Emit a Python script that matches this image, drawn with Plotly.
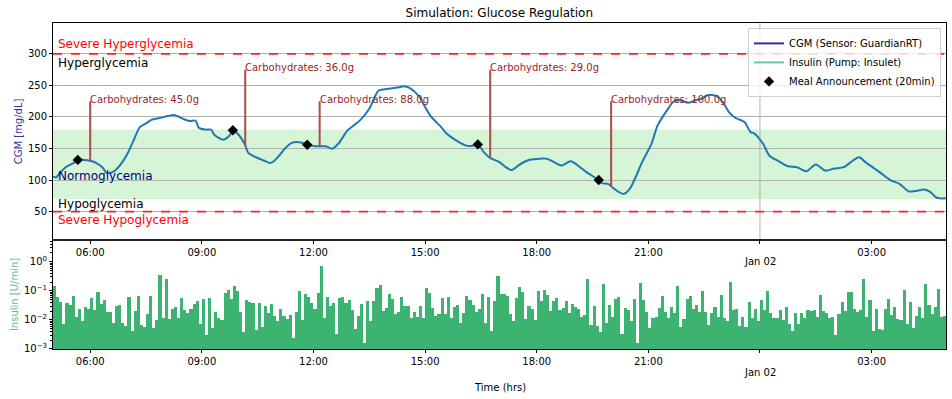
import numpy as np
import pandas as pd
import plotly.graph_objects as go

# ---------------- data ----------------
cgm_clock = ["05:00","05:05","05:10","05:20","05:35","05:40","05:50","06:00","06:10","06:20",
             "06:25","06:30","06:40","06:50","07:00","07:10","07:20","07:30","07:40","07:55",
             "08:05","08:15","08:20","08:30","08:40","08:50","08:55","09:05","09:15","09:20",
             "09:35","09:45","09:50","10:00","10:10","10:15","10:30","10:40","10:50","10:55",
             "11:05","11:15","11:25","11:40","11:50","12:00","12:10","12:20","12:30","12:40",
             "12:55","13:05","13:15","13:30","13:40","13:45","13:55","14:10","14:20","14:25",
             "14:35","14:50","15:00","15:10","15:25","15:35","15:50","16:05","16:15","16:25",
             "16:35","16:45","17:00","17:10","17:20","17:30","17:45","17:55","18:15","18:25",
             "18:40","18:55","19:10","19:20","19:40","19:45","19:55","20:05","20:20","20:30",
             "20:40","20:50","21:05","21:15","21:30","21:40","21:50","22:05","22:15","22:25",
             "22:35","22:50","23:00","23:10","23:20","23:35","23:45","23:50","00:05","00:15",
             "00:30","00:45","01:00","01:15","01:30","01:45","02:00","02:15","02:30","02:40",
             "02:50","03:05","03:15","03:30","03:45","04:00","04:10","04:25","04:35","04:45",
             "05:00"]
cgm_values = [106,104,110,120,128,132,132,130.5,127,120,
              112.5,111,115,126,141.6,163,184,190,196,199,
              201.5,203,201.5,197,193.5,194,183,180,179.8,172,
              164,171,179,171,155,143,135,131,127,129,
              139,151,159,159.6,156,154,153.5,153.5,149.6,157.5,
              178.7,186.7,194.6,213,234,242,244,246,247.6,248.6,
              246,233,216,200,185,173.4,163,155,154,156.5,
              144,135,128.4,120.4,116,123,131,133,134,130,
              123,130,120.4,112.5,100,95,94,86,78,86,
              105.6,128.4,157.5,186.7,210.5,223.7,226.4,222.7,226.4,228.5,
              234.3,233,223.7,207.8,198.8,192,176,174.5,157.5,139,
              130,122,120.4,114,124.7,115,118.3,120.4,131,136,
              128.4,118,111,100,94,82,82.5,85,81,72,
              71]

meal_clock = ["06:00", "10:10", "12:10", "16:45", "20:00"]
meal_carbs = [45.0, 36.0, 88.0, 29.0, 100.0]
announce_minutes = 20

insulin_values = [
    # 05:00 - 10:55
    0.146,0.061,0.042,0.0074,0.039,0.033,0.066,0.013,0.024,0.0094,
    0.028,0.024,0.057,0.022,0.091,0.036,0.048,0.019,0.019,0.0080,
    0.030,0.032,0.0080,0.0063,0.061,0.0043,0.020,0.068,0.0067,0.0057,
    0.016,0.066,0.0054,0.0099,0.358,0.012,0.254,0.011,0.024,0.028,
    0.012,0.057,0.022,0.017,0.024,0.035,0.045,0.0074,0.052,0.0031,
    0.057,0.0054,0.019,0.012,0.010,0.084,0.107,0.054,0.146,0.098,
    0.019,0.0039,0.048,0.041,0.039,0.0046,0.038,0.0058,0.029,0.017,
    0.035,0.014,
    # 11:00 - 16:55
    0.0092,0.024,0.014,0.011,0.015,0.0024,0.019,0.098,0.0099,0.078,
    0.061,0.038,0.024,0.084,0.711,0.012,0.061,0.030,0.038,0.0033,
    0.057,0.061,0.038,0.048,0.022,0.0049,0.014,0.035,0.0016,0.045,
    0.0092,0.045,0.125,0.158,0.020,0.026,0.078,0.052,0.016,0.019,
    0.061,0.030,0.030,0.012,0.019,0.013,0.030,0.012,0.125,0.084,
    0.026,0.014,0.016,0.057,0.016,0.061,0.012,0.028,0.032,0.0078,
    0.017,0.066,0.048,0.032,0.019,0.024,0.078,0.0078,0.061,0.0042,
    0.045,0.323,
    # 17:00 - 22:55
    0.078,0.078,0.066,0.016,0.0092,0.057,0.135,0.091,0.011,0.030,
    0.024,0.0099,0.098,0.045,0.107,0.074,0.020,0.045,0.057,0.022,
    0.026,0.045,0.017,0.035,0.028,0.024,0.013,0.015,0.254,0.0067,
    0.030,0.0062,0.0038,0.171,0.0078,0.032,0.013,0.052,0.061,0.0033,
    0.026,0.022,0.0092,0.052,0.0016,0.185,0.048,0.019,0.0053,0.012,
    0.013,0.026,0.066,0.019,0.012,0.028,0.017,0.146,0.0057,0.011,
    0.052,0.066,0.024,0.032,0.019,0.098,0.019,0.0067,0.017,0.028,
    0.013,0.072,
    # 23:00 - 04:55
    0.012,0.0092,0.200,0.022,0.024,0.0062,0.013,0.0057,0.041,0.012,
    0.024,0.0092,0.048,0.022,0.098,0.017,0.012,0.012,0.022,0.0099,
    0.028,0.0072,0.0042,0.017,0.0072,0.017,0.012,0.022,0.020,0.022,
    0.013,0.072,0.020,0.017,0.012,0.013,0.0030,0.016,0.041,0.020,
    0.091,0.091,0.024,0.019,0.022,0.254,0.013,0.048,0.0042,0.024,
    0.0049,0.0045,0.024,0.052,0.015,0.028,0.011,0.0099,0.107,0.0072,
    0.041,0.0053,0.014,0.028,0.012,0.171,0.032,0.016,0.028,0.115,
    0.013,0.014,
]

tick_clock = ["06:00", "09:00", "12:00", "15:00", "18:00", "21:00", "00:00", "03:00"]
tick_text = ["06:00", "09:00", "12:00", "15:00", "18:00", "21:00", " ", "03:00"]
date_label = "Jan 02"

zone_labels = ["Severe Hyperglycemia", "Hyperglycemia", "Normoglycemia", "Hypoglycemia", "Severe Hypoglycemia"]

# ---------------- helpers ----------------
day0 = pd.Timestamp("2023-01-01")
start = day0 + pd.Timedelta(hours=5)

def to_ts(clock_list):
    out = []
    day = 0
    prev = -1
    for c in clock_list:
        h, m = map(int, c.split(":"))
        mins = h * 60 + m
        if mins < prev:
            day += 1
        prev = mins
        out.append(day0 + pd.Timedelta(days=day, minutes=mins))
    return out

def clock_ts(c):
    h, m = map(int, c.split(":"))
    ts = day0 + pd.Timedelta(minutes=h * 60 + m)
    if ts < start:
        ts += pd.Timedelta(days=1)
    return ts

cgm_t = to_ts(cgm_clock)
cgm_num = np.array([(t - start).total_seconds() for t in cgm_t])
meal_t = [clock_ts(c) for c in meal_clock]
ann_t = [t - pd.Timedelta(minutes=announce_minutes) for t in meal_t]
meal_y = np.interp([(t - start).total_seconds() for t in meal_t], cgm_num, cgm_values)
ann_y = np.interp([(t - start).total_seconds() for t in ann_t], cgm_num, cgm_values)
ins_t = pd.date_range(start, periods=len(insulin_values), freq="5min")
tick_vals = [clock_ts(c) for c in tick_clock]
midnight = tick_vals[6]
x_range = [start, start + pd.Timedelta(days=1)]

FONT = "DejaVu Sans"
split = 0.3344

fig = go.Figure()

# CGM curve
fig.add_trace(go.Scatter(x=cgm_t, y=cgm_values, mode="lines", line=dict(color="#1f77b4", width=2, shape="spline", smoothing=0.8),
                         showlegend=False, xaxis="x", yaxis="y", hoverinfo="skip"))

# carb lines
annotations = []
for i, (t, yb, c) in enumerate(zip(meal_t, meal_y, meal_carbs)):
    top = 225 if i % 2 == 0 else 275
    fig.add_trace(go.Scatter(x=[t, t], y=[yb, top], mode="lines", line=dict(color="#ad4b4b", width=2),
                             showlegend=False, xaxis="x", yaxis="y"))
    annotations.append(dict(x=t, y=top, xref="x", yref="y", text=f"Carbohydrates: {c:.1f}g", showarrow=False,
                            xanchor="left", yanchor="middle", yshift=2, xshift=-2,
                            font=dict(family=FONT, size=10, color="#9a2525")))

# meal announcements
fig.add_trace(go.Scatter(x=ann_t, y=ann_y, mode="markers", marker=dict(symbol="diamond", size=8, color="black"),
                         showlegend=False, xaxis="x", yaxis="y"))

# insulin bars
fig.add_trace(go.Bar(x=ins_t, y=insulin_values, width=300000, offset=0, marker=dict(color="#3cb371", line=dict(width=0)),
                     showlegend=False, xaxis="x2", yaxis="y2"))

# legend dummies
fig.add_trace(go.Scatter(x=[None], y=[None], mode="lines", line=dict(color="#30309a", width=2),
                         name="CGM (Sensor: GuardianRT)", xaxis="x", yaxis="y"))
fig.add_trace(go.Scatter(x=[None], y=[None], mode="lines", line=dict(color="#66cc99", width=2),
                         name="Insulin (Pump: Insulet)", xaxis="x", yaxis="y"))
fig.add_trace(go.Scatter(x=[None], y=[None], mode="markers", marker=dict(symbol="diamond", size=8, color="black"),
                         name="Meal Announcement (20min)", xaxis="x", yaxis="y"))

# zone labels
zone_y = [316, 285.5, 106, 61.5, 36]
zone_colors = ["red", "black", "#000080", "black", "red"]
for lab, yy, col in zip(zone_labels, zone_y, zone_colors):
    annotations.append(dict(x=0.003, y=yy, xref="x domain", yref="y", text=lab, showarrow=False,
                            xanchor="left", yanchor="middle", font=dict(family=FONT, size=12, color=col)))

# date labels under the midnight ticks
for yy in (0.2669, -0.0706):
    annotations.append(dict(x=midnight, y=yy, xref="x", yref="paper", text=date_label, showarrow=False,
                            xanchor="center", yanchor="middle", font=dict(family=FONT, size=10, color="black")))

annotations.append(dict(x=0.5, y=-0.119, xref="paper", yref="paper", text="Time (hrs)", showarrow=False,
                        xanchor="center", yanchor="middle", font=dict(family=FONT, size=10, color="black")))

shapes = [
    dict(type="rect", xref="x domain", yref="y", x0=0, x1=1, y0=70, y1=180, fillcolor="#d6f4d6",
         line=dict(width=0), layer="below"),
    dict(type="line", xref="x", yref="y domain", x0=midnight, x1=midnight, y0=0, y1=1,
         line=dict(color="#b0b0b0", width=1), layer="below"),
    dict(type="line", xref="x domain", yref="y", x0=0, x1=1, y0=300, y1=300, line=dict(color="#ff2020", width=1.6, dash="dash")),
    dict(type="line", xref="x domain", yref="y", x0=0, x1=1, y0=50, y1=50, line=dict(color="#ff2020", width=1.6, dash="dash")),
    dict(type="line", xref="paper", yref="paper", x0=0, x1=1, y0=split, y1=split, line=dict(color="#222", width=2)),
]

minor_vals = [k * 10.0 ** e for e in range(-3, 1) for k in range(2, 10)]

axis_common = dict(showline=True, linecolor="black", linewidth=1, mirror=True, ticks="outside", ticklen=3,
                   tickcolor="black", tickfont=dict(family=FONT, size=10, color="black"), zeroline=False,
                   automargin=False)

fig.update_layout(
    template="none",
    width=952, height=399,
    margin=dict(l=53, r=6, t=23, b=50, autoexpand=False),
    paper_bgcolor="white", plot_bgcolor="white",
    font=dict(family=FONT, size=10, color="black"),
    title=dict(text="Simulation: Glucose Regulation", x=0.5245, y=1 - 13 / 399, xanchor="center", yanchor="middle",
               font=dict(family=FONT, size=12, color="black")),
    xaxis=dict(domain=[0, 1], anchor="y", type="date", range=x_range, tickmode="array", tickvals=tick_vals,
               ticktext=tick_text, showgrid=False, **axis_common),
    yaxis=dict(domain=[split, 1], anchor="x", range=[5, 349], tickmode="array", tickvals=[50, 100, 150, 200, 250, 300],
               showgrid=True, gridcolor="#b0b0b0", gridwidth=1,
               title=dict(text="CGM [mg/dL]", font=dict(family=FONT, size=10, color="#3434a0"), standoff=3),
               **axis_common),
    xaxis2=dict(domain=[0, 1], anchor="y2", type="date", range=x_range, tickmode="array", tickvals=tick_vals,
                ticktext=tick_text, showgrid=False, **axis_common),
    yaxis2=dict(domain=[0, split], anchor="x2", type="log", range=[-3, 0.745], tickmode="array",
                tickvals=[0.001, 0.01, 0.1, 1],
                ticktext=["10<sup>\u22123</sup>", "10<sup>\u22122</sup>", "10<sup>\u22121</sup>", "10<sup>0</sup>"],
                showgrid=False,
                minor=dict(tickmode="array", tickvals=minor_vals, ticks="outside", ticklen=2, tickcolor="black", showgrid=False),
                title=dict(text="Insulin [U/min]", font=dict(family=FONT, size=10, color="#5cbf8a"), standoff=3),
                **axis_common),
    bargap=0,
    legend=dict(x=0.9944, y=0.985, xanchor="right", yanchor="top", bgcolor="rgba(255,255,255,0.8)",
                bordercolor="#d0d0d0", borderwidth=1, font=dict(family=FONT, size=10, color="black"),
                itemwidth=30, tracegroupgap=0),
    annotations=annotations,
    shapes=shapes,
)

fig.write_html("out.html", config={"displayModeBar": False},
               post_script="document.body.style.margin='0px';document.body.style.overflow='hidden';")
